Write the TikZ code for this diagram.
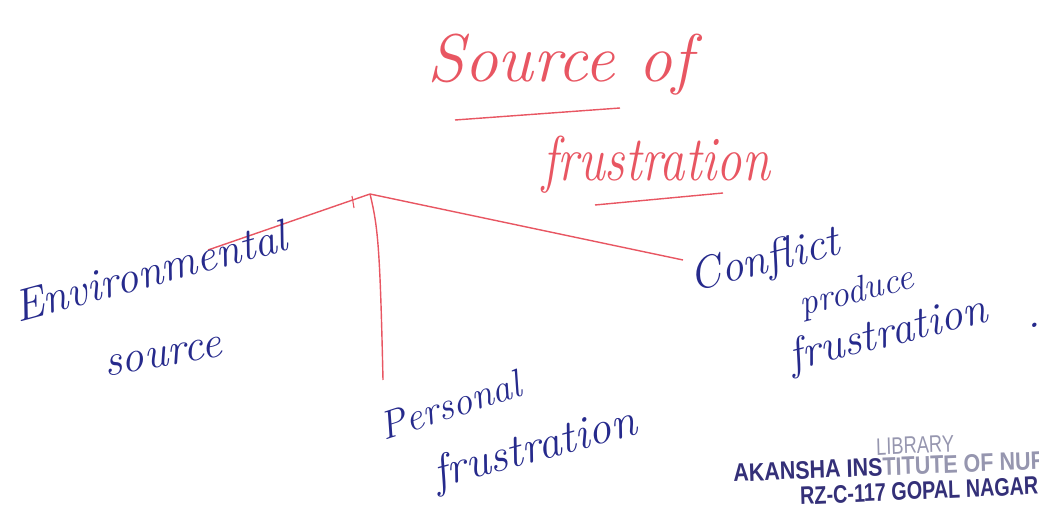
\documentclass[tikz,border=0pt]{standalone}
\usepackage{fontspec}
\newfontfamily\stampfont{Liberation Sans}
\usepackage{xcolor}
\usepackage{tikz}
\definecolor{penred}{RGB}{232,86,98}
\definecolor{penblue}{RGB}{38,42,140}
\definecolor{stampdark}{RGB}{52,48,120}
\definecolor{stamplight}{RGB}{150,150,175}

\tikzset{
  redhand/.style={penred,font=\itshape,inner sep=0pt},
  bluehand/.style={penblue,font=\itshape,inner sep=0pt},
  stamp/.style={stampdark,font=\stampfont\bfseries,inner sep=0pt,anchor=west,xscale=0.85},
}

\begin{document}
\begin{tikzpicture}
  \useasboundingbox (0,0) rectangle (25.975,13.075);

  % Title
  \node[redhand] (title1) at (14.0,11.45) {\fontsize{48}{50}\selectfont Source of};
  \node[redhand,yscale=1.25] (title2) at (16.4,8.95) {\fontsize{36}{40}\selectfont frustration};

  % Underlines
  \draw[penred,line width=1pt] (11.375,10.075) -- (15.5,10.375);
  \draw[penred,line width=1pt] (14.875,7.95) -- (18.075,8.25);

  % Branch points
  \coordinate (root) at (9.25,8.225);
  \coordinate (envend) at (5.2,6.825);
  \coordinate (perend) at (9.575,3.575);
  \coordinate (conend) at (17.075,6.575);

  % Branches
  \draw[penred,line width=1pt] (root) -- (envend);
  \draw[penred,line width=1pt] (root) .. controls (9.45,7.4) and (9.5,6.9) .. (perend);
  \draw[penred,line width=1pt] (root) -- (conend);
  \draw[penred,line width=0.8pt] (root) ++(-0.45,-0.05) -- ++(0.05,-0.3);

  % Environmental source
  \node[bluehand,rotate=15] (env) at (3.75,6.3) {\fontsize{32}{36}\selectfont Environmental};
  \node[bluehand,rotate=10] (envsrc) at (4.075,4.15) {\fontsize{32}{36}\selectfont source};

  % Personal frustration
  \node[bluehand,rotate=18] (per) at (11.25,2.95) {\fontsize{28}{32}\selectfont Personal};
  \node[bluehand,rotate=15] (perfru) at (13.375,1.825) {\fontsize{33}{36}\selectfont frustration};

  % Conflict produce frustration
  \node[bluehand,rotate=14] (con) at (19.125,6.525) {\fontsize{32}{36}\selectfont Conflict};
  \node[bluehand,rotate=14] (conpro) at (21.425,5.75) {\fontsize{26}{30}\selectfont produce};
  \node[bluehand,rotate=14] (confru) at (22.2,4.7) {\fontsize{32}{36}\selectfont frustration};
  \node[bluehand] (condot) at (25.85,4.95) {\fontsize{32}{36}\selectfont .};

  % Library stamp
  \node[stamp,stamplight,font=\stampfont,xscale=0.9,rotate=2] (lib) at (21.9,1.9) {\fontsize{17}{18}\selectfont LIBRARY};
  \node[stamp,rotate=2] (inst) at (18.325,1.25) {\fontsize{18}{20}\selectfont AKANSHA INS{\color{stamplight}TITUTE OF NUR}};
  \node[stamp,xscale=0.92,rotate=2] (addr) at (20.0,0.675) {\fontsize{18}{20}\selectfont RZ-C-117 GOPAL NAGAR};
\end{tikzpicture}
\end{document}
